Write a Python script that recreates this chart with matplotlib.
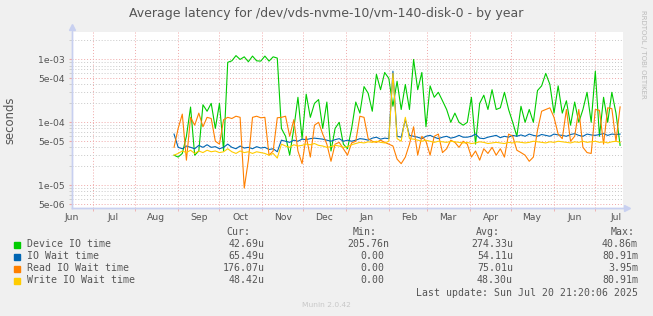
import numpy as np
import pandas as pd
import matplotlib
matplotlib.use('Agg')
import matplotlib.pyplot as plt
import matplotlib.dates as mdates
import matplotlib.ticker as mticker
from matplotlib.patches import Rectangle

# one sample every 3 days, values in microseconds
dates = pd.date_range('2024-08-29', periods=109, freq='3D')

device_io = [
    30, 28, 32, 60, 175, 30, 35, 190, 150, 200,
    80, 200, 35, 900, 950, 1150, 1000, 1100, 920, 1130,
    950, 940, 1130, 940, 1100, 1050, 80, 60, 30, 80,
    250, 55, 280, 120, 200, 230, 80, 210, 35, 80,
    100, 45, 38, 80, 210, 140, 370, 290, 150, 580,
    330, 620, 500, 180, 450, 160, 400, 160, 1000, 330,
    620, 85, 380, 250, 300, 220, 160, 100, 140, 100,
    90, 100, 250, 45, 200, 270, 160, 330, 160, 170,
    300, 160, 100, 60, 180, 100, 160, 100, 320, 380,
    600, 400, 140, 380, 140, 220, 90, 210, 100, 160,
    300, 100, 650, 60, 250, 100, 300, 140, 43,
]
io_wait = [
    65, 40, 38, 42, 40, 38, 43, 40, 44, 40,
    41, 38, 40, 45, 40, 38, 42, 39, 40, 38,
    41, 39, 40, 37, 38, 34, 52, 50, 48, 52,
    50, 54, 53, 55, 56, 55, 54, 52, 50, 53,
    55, 50, 52, 50, 52, 55, 54, 52, 56, 58,
    54, 56, 55, 650, 60, 58, 110, 62, 60, 58,
    55, 60, 62, 58, 55, 58, 60, 56, 58, 62,
    58, 58, 60, 65, 56, 55, 58, 60, 62, 57,
    60, 58, 62, 60, 63, 60, 65, 62, 60, 64,
    62, 60, 65, 63, 62, 60, 64, 66, 62, 60,
    65, 63, 62, 64, 66, 62, 65, 64, 65,
]
read_wait = [
    40, 80, 135, 25, 120, 90, 140, 85, 120, 115,
    50, 45, 110, 120, 115, 125, 120, 9, 25, 120,
    125, 118, 120, 30, 35, 118, 120, 125, 60, 110,
    35, 22, 60, 28, 90, 100, 65, 45, 24, 45,
    48, 38, 30, 47, 50, 125, 120, 55, 50, 48,
    52, 48, 45, 42, 26, 22, 28, 45, 85, 30,
    60, 50, 30, 60, 65, 33, 38, 52, 48, 40,
    50, 45, 28, 35, 25, 38, 32, 40, 30, 38,
    28, 65, 60, 36, 33, 30, 24, 28, 75, 150,
    160, 170, 120, 65, 55, 160, 50, 60, 160, 40,
    33, 32, 160, 155, 45, 170, 165, 50, 176,
]
write_wait = [
    30, 32, 35, 33, 36, 32, 35, 33, 36, 34,
    35, 33, 34, 38, 34, 32, 35, 33, 34, 32,
    34, 33, 32, 30, 32, 27, 45, 42, 40, 44,
    42, 43, 45, 44, 46, 43, 42, 40, 41, 43,
    42, 40, 41, 44, 46, 48, 47, 49, 48, 50,
    48, 47, 50, 600, 55, 50, 120, 55, 54, 52,
    50, 52, 50, 48, 50, 49, 48, 50, 49, 48,
    47, 48, 46, 47, 49, 48, 46, 47, 48, 47,
    46, 48, 47, 49, 48, 47, 48, 50, 49, 48,
    47, 49, 48, 50, 49, 48, 47, 49, 48, 50,
    48, 49, 50, 48, 49, 47, 49, 50, 48,
]

labels = ['Device IO time', 'IO Wait time', 'Read IO Wait time', 'Write IO Wait time']
colors = ['#00CC00', '#0066B3', '#FF8000', '#FFCC00']
cur_vals = ['42.69u', '65.49u', '176.07u', '48.42u']
min_vals = ['205.76n', '0.00', '0.00', '0.00']
avg_vals = ['274.33u', '54.11u', '75.01u', '48.30u']
max_vals = ['40.86m', '80.91m', '3.95m', '80.91m']

ytick_vals = [5e-6, 1e-5, 5e-5, 1e-4, 5e-4, 1e-3]
ytick_labels = ['5e-06', '1e-05', '5e-05', '1e-04', '5e-04', '1e-03']
yminor_vals = [6e-6, 7e-6, 8e-6, 9e-6, 2e-5, 3e-5, 4e-5, 6e-5, 7e-5, 8e-5, 9e-5,
               2e-4, 3e-4, 4e-4, 6e-4, 7e-4, 8e-4, 9e-4, 2e-3]

W, H = 653, 316
txt = '#555555'
axis_col = '#C8D0F0'
red_grid = '#EFA8A8'
gray_grid = '#C8C8C8'

fig = plt.figure(figsize=(W / 100, H / 100), dpi=100, facecolor='#F0F0F0')
ax = fig.add_axes([72 / W, 108 / H, 550.7 / W, 176 / H])
ax.set_facecolor('white')

for vals, col in zip([device_io, io_wait, read_wait, write_wait], colors):
    ax.plot(dates, np.array(vals) * 1e-6, color=col, lw=0.8)

ax.set_yscale('log')
ax.set_ylim(4.34e-6, 2.73e-3)
ax.set_xlim(pd.Timestamp('2024-06-15 21:20'), pd.Timestamp('2025-07-20 21:20'))

ax.set_yticks(ytick_vals)
ax.set_yticklabels(ytick_labels)
ax.set_yticks(yminor_vals, minor=True)
ax.yaxis.set_minor_formatter(mticker.NullFormatter())

ax.xaxis.set_major_locator(mdates.MonthLocator(bymonthday=16))
ax.xaxis.set_major_formatter(mdates.DateFormatter('%b'))
ax.xaxis.set_minor_locator(mdates.MonthLocator())

ax.tick_params(axis='both', which='both', labelsize=6.7, labelcolor=txt)
ax.tick_params(axis='x', which='major', length=0, pad=3.6)
ax.tick_params(axis='x', which='minor', length=2, color=red_grid)
ax.tick_params(axis='y', which='major', length=2, color=red_grid, pad=3)
ax.tick_params(axis='y', which='minor', length=2, color=gray_grid)

ax.grid(which='minor', axis='x', color=red_grid, ls=(0, (1, 2)), lw=0.7)
ax.grid(which='major', axis='y', color=red_grid, ls=(0, (1, 2)), lw=0.7)
ax.grid(which='minor', axis='y', color=gray_grid, ls=(0, (1, 2)), lw=0.7)
ax.set_axisbelow(True)

for s in ['top', 'right']:
    ax.spines[s].set_visible(False)
for s in ['left', 'bottom']:
    ax.spines[s].set_color(axis_col)
    ax.spines[s].set_linewidth(1)
# axis arrows like rrdtool
ax.plot([0, 0], [0, 1.02], transform=ax.transAxes, clip_on=False, color=axis_col, lw=1)
ax.plot([0, 1.006], [0, 0], transform=ax.transAxes, clip_on=False, color=axis_col, lw=1)
ax.plot(0, 1.03, marker='^', ms=4, color=axis_col, transform=ax.transAxes, clip_on=False)
ax.plot(1.008, 0, marker='>', ms=4, color=axis_col, transform=ax.transAxes, clip_on=False)

fig.text(326 / W, 1 - 13 / H, 'Average latency for /dev/vds-nvme-10/vm-140-disk-0 - by year',
         ha='center', va='center', fontsize=9, color=txt)
fig.text(10 / W, 1 - 120 / H, 'seconds', rotation=90, ha='center', va='center',
         fontsize=8.4, color=txt)
fig.text(643 / W, 1 - 54 / H, 'RRDTOOL / TOBI OETIKER', rotation=270, ha='center',
         va='center', fontsize=5, color='#BBBBBB')

# legend block
mono = dict(family='DejaVu Sans Mono', fontsize=7.1, color=txt, va='center')
hy = 1 - 232.3 / H
fig.text(250.7 / W, hy, 'Cur:', ha='right', **mono)
fig.text(376.3 / W, hy, 'Min:', ha='right', **mono)
fig.text(499.7 / W, hy, 'Avg:', ha='right', **mono)
fig.text(634.7 / W, hy, 'Max:', ha='right', **mono)
for k in range(4):
    ry = 244.3 + 12 * k
    y = 1 - ry / H
    fig.patches.append(Rectangle((14 / W, 1 - (ry + 3.5) / H), 6 / W, 6 / H,
                                 transform=fig.transFigure, color=colors[k]))
    fig.text(26.7 / W, y, labels[k], ha='left', **mono)
    fig.text(264.3 / W, y, cur_vals[k], ha='right', **mono)
    mx = 389.7 if min_vals[k][-1].isalpha() else 384
    fig.text(mx / W, y, min_vals[k], ha='right', **mono)
    fig.text(513 / W, y, avg_vals[k], ha='right', **mono)
    fig.text(638 / W, y, max_vals[k], ha='right', **mono)
fig.text(638 / W, 1 - 293 / H, 'Last update: Sun Jul 20 21:20:06 2025', ha='right', **mono)
fig.text(326 / W, 1 - 305 / H, 'Munin 2.0.42', ha='center', va='center',
         fontsize=5.4, color='#C8C8C8')

fig.savefig('out.png', dpi=100, facecolor=fig.get_facecolor())
